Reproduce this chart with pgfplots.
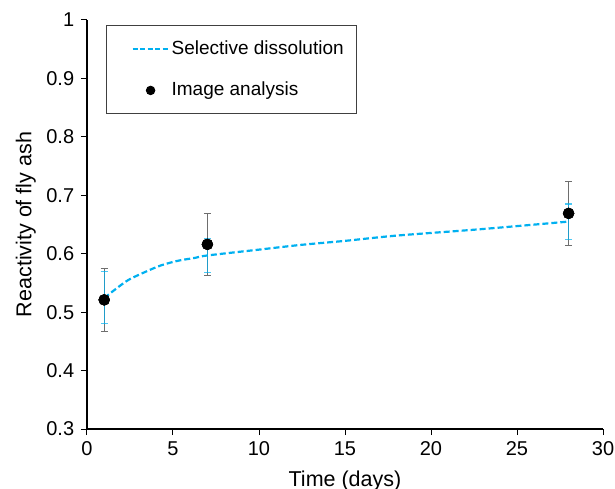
\documentclass[border=0pt]{standalone}
\usepackage{fontspec}
\setmainfont{Liberation Sans}
\usepackage{pgfplots}
\pgfplotsset{compat=1.18}
\definecolor{sdblue}{RGB}{0,176,240}
\definecolor{ebgray}{RGB}{110,110,110}
\pgfplotsset{
  longline legend/.style={legend image code/.code={\path (0bp,0bp); \draw[##1, line width=2bp, dash pattern=on 5bp off 2.5bp] (14bp,0bp) -- (50bp,0bp);}},
  longmark legend/.style={legend image code/.code={\path (0bp,0bp) (50bp,0bp); \draw[##1, mark size=4.3bp] plot coordinates {(32bp,0bp)};}},
}
\begin{document}
\fontsize{20bp}{24bp}\selectfont
\begin{tikzpicture}
\begin{axis}[
  scale only axis,
  width=516bp, height=409bp,
  xmin=0, xmax=30, ymin=0.3, ymax=1,
  axis lines=left,
  axis line style={-, line width=1.1bp},
  xtick={0,5,...,30},
  ytick={0.3,0.4,...,1.0},
  yticklabels={0.3,0.4,0.5,0.6,0.7,0.8,0.9,1},
  tick align=outside,
  major tick length=6bp,
  tick style={black, line width=1bp},
  /pgf/number format/assume math mode=true,
  ticklabel style={font=\fontsize{20bp}{24bp}\selectfont},
  xlabel={Time (days)},
  ylabel={Reactivity of fly ash},
  label style={font=\fontsize{21.5bp}{25bp}\selectfont},
  xlabel style={at={([yshift=-57bp]axis description cs:0.5,0)}, anchor=base},
  ylabel style={at={([xshift=-55.5bp]axis description cs:0,0.5)}, anchor=base},
  clip=false,
  legend cell align=left,
  legend style={at={(rel axis cs:0.037,0.988)}, anchor=north west,
    draw=black!75, line width=0.8bp,
    inner xsep=11bp, inner ysep=13bp,
    row sep=21bp,
    font=\fontsize{19bp}{22bp}\selectfont,
    /tikz/every even column/.append style={column sep=8bp}},
]
% gray error bars + points (image analysis)
\addplot[only marks, mark=*, mark size=5.5bp, black, forget plot,
  error bars/.cd, y dir=both, y explicit,
  error bar style={ebgray, line width=1.2bp},
  error mark options={rotate=90, mark size=3.5bp, ebgray, line width=1.2bp}]
  coordinates {(1,0.521) +- (0,0.054) (7,0.616) +- (0,0.053) (28,0.669) +- (0,0.055)};
% blue error bars on curve
\addplot[draw=none, mark=none, forget plot,
  error bars/.cd, y dir=both, y explicit,
  error bar style={sdblue, opacity=0.7, line width=1.2bp},
  error mark options={rotate=90, mark size=3.5bp, sdblue, line width=1.2bp}]
  coordinates {(1,0.525) +- (0,0.045) (7,0.597) +- (0,0.029) (28,0.655) +- (0,0.030)};
% curve
\addplot[sdblue, line width=2.2bp, dash pattern=on 6bp off 3bp, smooth, longline legend]
  coordinates {(1,0.524) (1.6,0.538) (2.4,0.555) (3.4,0.569) (4.3,0.580) (5.3,0.588) (6.3,0.593) (7,0.597) (10,0.607) (12.4,0.615) (15,0.622) (18,0.631) (22.9,0.642) (28,0.655)};
\addlegendentry{Selective dissolution}
% points redrawn on top
\addplot[only marks, mark=*, mark size=5.5bp, black, longmark legend]
  coordinates {(1,0.521) (7,0.616) (28,0.669)};
\addlegendentry{Image analysis}
\end{axis}
\pgfresetboundingbox
\path ([shift={(-87bp,-60bp)}]current axis.south west) rectangle ([shift={(528bp,429bp)}]current axis.south west);
\end{tikzpicture}
\end{document}
